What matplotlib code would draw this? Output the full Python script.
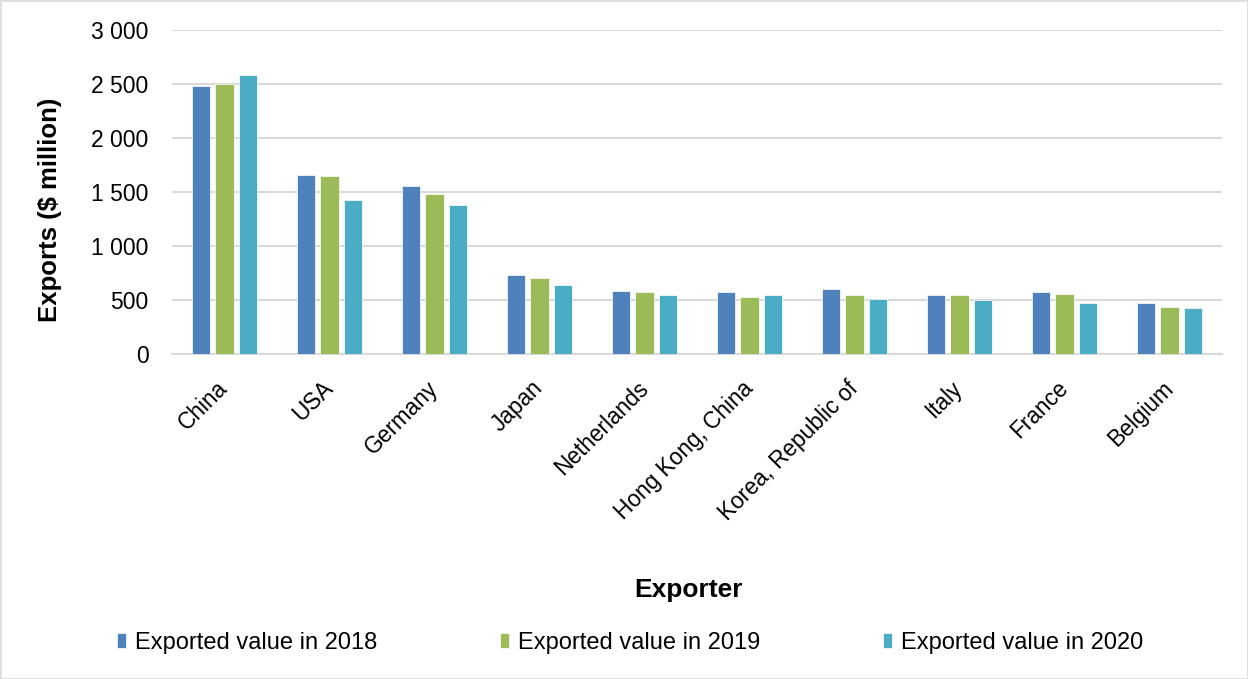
import numpy as np
import matplotlib
matplotlib.use("Agg")
import matplotlib.pyplot as plt
from matplotlib.patches import Rectangle
from matplotlib.ticker import FuncFormatter

plt.rcParams["font.family"] = ["Liberation Sans", "DejaVu Sans"]

exporters = ["China", "USA", "Germany", "Japan", "Netherlands", "Hong Kong, China",
             "Korea, Republic of", "Italy", "France", "Belgium"]
exports_2018 = [2482, 1657, 1556, 730, 587, 572, 602, 544, 572, 469]
exports_2019 = [2497, 1645, 1482, 700, 572, 528, 544, 544, 556, 438]
exports_2020 = [2586, 1424, 1378, 642, 544, 544, 512, 497, 469, 425]
series_labels = ["Exported value in 2018", "Exported value in 2019", "Exported value in 2020"]
colors = ["#4F81BD", "#9BBB59", "#4BACC6"]

W, H = 1248, 679
fig = plt.figure(figsize=(W / 100, H / 100), dpi=100)
ax = fig.add_axes([172 / W, 1 - 354 / H, (1222 - 172) / W, (354 - 30) / H])

x = np.arange(len(exporters))
pitch = 0.221
for i, (vals, lab, col) in enumerate(zip([exports_2018, exports_2019, exports_2020],
                                         series_labels, colors)):
    ax.bar(x + (i - 1) * pitch, vals, width=0.172, color=col, label=lab,
           edgecolor="white", linewidth=0.5, zorder=3)

ax.set_xlim(-0.5, len(exporters) - 0.5)
ax.set_ylim(0, 3000)
ax.set_yticks(np.arange(0, 3001, 500))
ax.yaxis.set_major_formatter(FuncFormatter(lambda v, p: f"{int(v):,}".replace(",", " ")))
ax.grid(axis="y", color="#D9D9D9", linewidth=1.5, zorder=0)
for s in ["top", "right", "left"]:
    ax.spines[s].set_visible(False)
ax.spines["bottom"].set_color("#D9D9D9")
ax.spines["bottom"].set_linewidth(1.5)
ax.tick_params(axis="both", length=0, colors="black")
ax.tick_params(axis="y", labelsize=16.5, pad=17)
ax.set_xticks(x)
ax.set_xticklabels(exporters, rotation=45, ha="right", va="center",
                   rotation_mode="anchor", fontsize=16.3)
ax.tick_params(axis="x", pad=22)

ax.set_ylabel("Exports ($ million)", fontsize=18.5, fontweight="bold")
ax.yaxis.set_label_coords((62 - 172) / 1050, 1 - (210 - 30) / 324)
fig.text(688 / W, 1 - 590 / H, "Exporter", fontsize=19, fontweight="bold",
         ha="center", va="center")

fig.legend(loc="center", bbox_to_anchor=(630 / W, 1 - 643 / H), ncol=3, frameon=False,
           fontsize=17, handlelength=0.38, handleheight=0.6, handletextpad=0.38,
           columnspacing=5.2)

fig.patches.append(Rectangle((0.5 / W, 0.5 / H), 1 - 1 / W, 1 - 1 / H,
                             transform=fig.transFigure, fill=False,
                             edgecolor="#D9D9D9", linewidth=1.2))

fig.savefig("out.png", dpi=100)
